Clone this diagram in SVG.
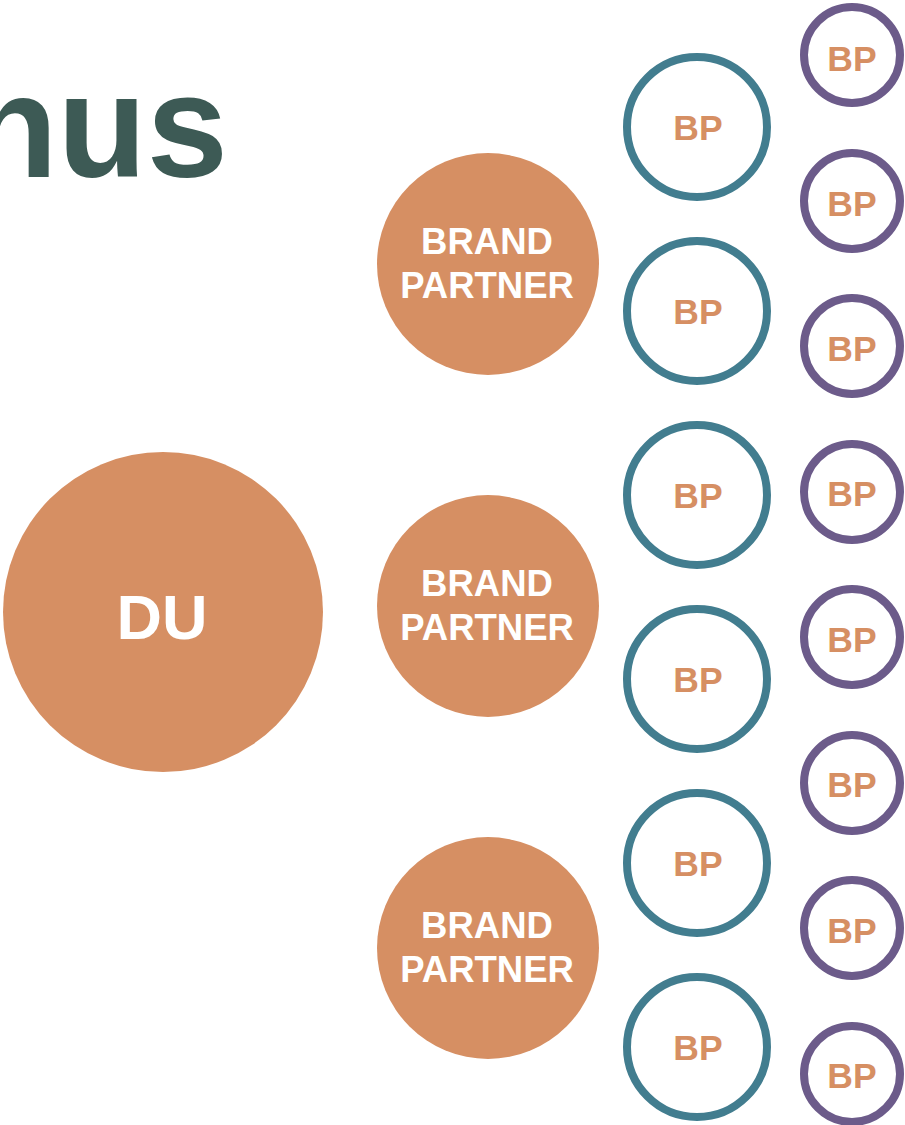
<svg xmlns="http://www.w3.org/2000/svg" width="905" height="1125" viewBox="0 0 905 1125">
<style>
.t{font-family:"Liberation Sans",Arial,sans-serif;font-weight:bold;text-anchor:middle}
.fill{fill:#D68F63}
.teal{fill:#fff;stroke:#427D8F;stroke-width:8}
.purp{fill:#fff;stroke:#6C5B8A;stroke-width:8}
.w{fill:#fff}
.b{font-size:36.5px}
.o{fill:#D68F63;font-size:35.5px}
</style>
<rect width="905" height="1125" fill="#fff"/>
<text x="228" y="177" font-family="Liberation Sans,Arial,sans-serif" font-weight="bold" font-size="146" fill="#3D5A55" text-anchor="end">nus</text>
<g id="connectors"></g>
<g id="du"><circle class="fill" cx="163" cy="612" r="160"/><text class="t w" x="162" y="639" font-size="63">DU</text></g>
<g id="bp1"><circle class="fill" cx="488" cy="264" r="111"/><text class="t w b" x="487" y="254">BRAND</text><text class="t w b" x="487" y="298">PARTNER</text></g>
<g id="bp2"><circle class="fill" cx="488" cy="606" r="111"/><text class="t w b" x="487" y="596">BRAND</text><text class="t w b" x="487" y="640">PARTNER</text></g>
<g id="bp3"><circle class="fill" cx="488" cy="948" r="111"/><text class="t w b" x="487" y="938">BRAND</text><text class="t w b" x="487" y="982">PARTNER</text></g>
<g id="t1"><circle class="teal" cx="697" cy="127" r="70"/><text class="t o" x="698" y="140">BP</text></g>
<g id="t2"><circle class="teal" cx="697" cy="311" r="70"/><text class="t o" x="698" y="324">BP</text></g>
<g id="t3"><circle class="teal" cx="697" cy="495" r="70"/><text class="t o" x="698" y="508">BP</text></g>
<g id="t4"><circle class="teal" cx="697" cy="679" r="70"/><text class="t o" x="698" y="692">BP</text></g>
<g id="t5"><circle class="teal" cx="697" cy="863" r="70"/><text class="t o" x="698" y="876">BP</text></g>
<g id="t6"><circle class="teal" cx="697" cy="1047" r="70"/><text class="t o" x="698" y="1060">BP</text></g>
<g id="p1"><circle class="purp" cx="852" cy="55" r="48"/><text class="t o" x="852" y="71">BP</text></g>
<g id="p2"><circle class="purp" cx="852" cy="201" r="48"/><text class="t o" x="852" y="216">BP</text></g>
<g id="p3"><circle class="purp" cx="852" cy="346" r="48"/><text class="t o" x="852" y="361">BP</text></g>
<g id="p4"><circle class="purp" cx="852" cy="492" r="48"/><text class="t o" x="852" y="506">BP</text></g>
<g id="p5"><circle class="purp" cx="852" cy="637" r="48"/><text class="t o" x="852" y="652">BP</text></g>
<g id="p6"><circle class="purp" cx="852" cy="783" r="48"/><text class="t o" x="852" y="797">BP</text></g>
<g id="p7"><circle class="purp" cx="852" cy="928" r="48"/><text class="t o" x="852" y="943">BP</text></g>
<g id="p8"><circle class="purp" cx="852" cy="1074" r="48"/><text class="t o" x="852" y="1088">BP</text></g>
</svg>
